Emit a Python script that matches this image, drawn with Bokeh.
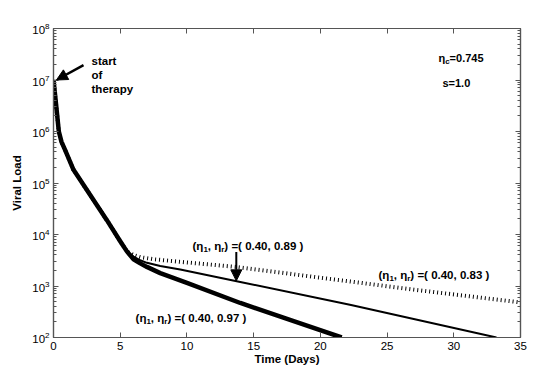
from bokeh.plotting import figure
from bokeh.models import (FixedTicker, LinearAxis, LogAxis, Arrow, NormalHead,
                          ColumnDataSource, Range1d)
from bokeh.core.properties import value
from bokeh.embed import file_html
from bokeh.resources import INLINE

# ---------------- data ----------------
t_early = [0, 0.2, 0.4, 0.6, 0.85, 1.5, 2.9, 4.0, 5.0, 5.5]
v_early = [1.0e7, 3.2e6, 1.0e6, 6.3e5, 4.5e5, 1.8e5, 5.1e4, 1.9e4, 7.4e3, 4.7e3]

t_097 = [6.0, 6.5, 7.0, 8.0, 10.0, 14.0, 18.0, 21.6]
v_097 = [3300, 2750, 2350, 1780, 1150, 468, 209, 100]

t_089 = [6.0, 6.5, 7.0, 8.0, 9.5, 14.0, 22.3, 33.2]
v_089 = [3720, 3160, 2820, 2450, 2090, 1200, 427, 100]

t_083 = [6.0, 6.5, 7.5, 9.5, 13.7, 20.0, 27.0, 35.0]
v_083 = [3980, 3630, 3310, 2950, 2340, 1450, 850, 480]

x_ticks = [0, 5, 10, 15, 20, 25, 30, 35]
y_ticks = [1e2, 1e3, 1e4, 1e5, 1e6, 1e7, 1e8]
y_minor = [m * d for d in [1e2, 1e3, 1e4, 1e5, 1e6, 1e7] for m in range(2, 10)]

FONT = "Liberation Sans"
FONT_V = value(FONT)

p = figure(width=550, height=372, output_backend="svg", toolbar_location=None,
           y_axis_type="log", x_range=Range1d(0, 35), y_range=Range1d(1e2, 1e8),
           frame_width=467, frame_height=309,
           min_border_left=53, min_border_right=30, min_border_top=28, min_border_bottom=35)
p.grid.visible = False
p.background_fill_color = "white"
p.border_fill_color = "white"
p.outline_line_color = "#555555"
p.outline_line_width = 1.2

AX = "#555555"
def style_axis(ax, labels=True):
    ax.axis_line_color = AX
    ax.axis_line_width = 1.2
    ax.major_tick_line_color = AX
    ax.minor_tick_line_color = AX
    ax.major_tick_in = 5
    ax.major_tick_out = 0
    ax.minor_tick_in = 3
    ax.minor_tick_out = 0
    ax.major_label_text_font = FONT
    ax.major_label_text_font_size = "11.5px"
    ax.major_label_text_color = "black"
    ax.major_label_standoff = 4
    if not labels:
        ax.major_label_text_alpha = 0
        ax.major_label_standoff = 0
        ax.major_label_text_font_size = "1px"

p.xaxis.ticker = FixedTicker(ticks=x_ticks, minor_ticks=[])
p.yaxis.ticker = FixedTicker(ticks=y_ticks, minor_ticks=y_minor)
style_axis(p.xaxis[0])
style_axis(p.yaxis[0])
p.xaxis.axis_label = "Time (Days)"
p.yaxis.axis_label = "Viral Load"
for ax in (p.xaxis[0], p.yaxis[0]):
    ax.axis_label_text_font = FONT
    ax.axis_label_text_font_style = "bold"
    ax.axis_label_text_font_size = "11.5px"
    ax.axis_label_text_color = "black"
p.xaxis.axis_label_standoff = 0
p.yaxis.axis_label_standoff = 6

top = LinearAxis(ticker=FixedTicker(ticks=x_ticks, minor_ticks=[]))
style_axis(top, labels=False)
p.add_layout(top, "above")
right = LogAxis(ticker=FixedTicker(ticks=y_ticks, minor_ticks=y_minor))
style_axis(right, labels=False)
p.add_layout(right, "right")

# ---------------- curves ----------------
p.line(t_early + t_083, v_early + v_083, line_color="black", line_width=4,
       line_dash="1 3")
p.line(t_early + t_089, v_early + v_089, line_color="black", line_width=2)
p.line(t_early + t_097, v_early + v_097, line_color="black", line_width=4.5,
       line_join="round")

# ---------------- annotations ----------------
W = {"(": 333, ")": 333, " ": 278, ",": 278, ".": 278, "=": 584, "η": 611,
     "c": 556, "r": 389, "s": 556}
def width(s, size):
    return sum(W.get(ch, 556) for ch in s) * size / 1000.0

def rich(x, y, pieces, size=11.5, sub=8.0):
    xs, ys, txt, xo, yo, fs = [], [], [], [], [], []
    off = 0.0
    for s, is_sub in pieces:
        sz = sub if is_sub else size
        xs.append(x); ys.append(y); txt.append(s)
        xo.append(off); yo.append(3.5 if is_sub else 0.0)
        fs.append(f"{sz}px")
        off += width(s, sz)
    src = ColumnDataSource(dict(x=xs, y=ys, text=txt, xo=xo, yo=yo, fs=fs))
    p.text(x="x", y="y", text="text", x_offset="xo", y_offset="yo",
           text_font_size="fs", source=src, text_font=FONT_V,
           text_font_style="bold", text_color="black",
           text_baseline="alphabetic", text_align="left")

def pair_label(x, y, a, b):
    rich(x, y, [("(η", False), ("1", True), (", η", False), ("r", True),
                (f") =( {a}, {b} )", False)])

pair_label(10.42, 10 ** 3.767, "0.40", "0.89")
pair_label(24.36, 10 ** 3.21, "0.40", "0.83")
pair_label(6.15, 10 ** 2.369, "0.40", "0.97")

rich(28.85, 10 ** 7.427, [("η", False), ("c", True), ("=0.745", False)], size=11)
rich(29.15, 10 ** 6.942, [("s=1.0", False)], size=11)

for i, line in enumerate(["start", "of", "therapy"]):
    rich(2.85, 10 ** (7.369 - 0.272 * i), [(line, False)], size=11.5)

p.add_layout(Arrow(end=NormalHead(size=11, fill_color="black", line_color="black"),
                   x_start=2.25, y_start=10 ** 7.29, x_end=0.22, y_end=1e7,
                   line_width=2.5, line_color="black"))
p.add_layout(Arrow(end=NormalHead(size=11, fill_color="black", line_color="black"),
                   x_start=13.7, y_start=10 ** 3.66, x_end=13.7, y_end=10 ** 3.10,
                   line_width=2, line_color="black"))

open("out.html", "w").write(file_html(p, INLINE))
